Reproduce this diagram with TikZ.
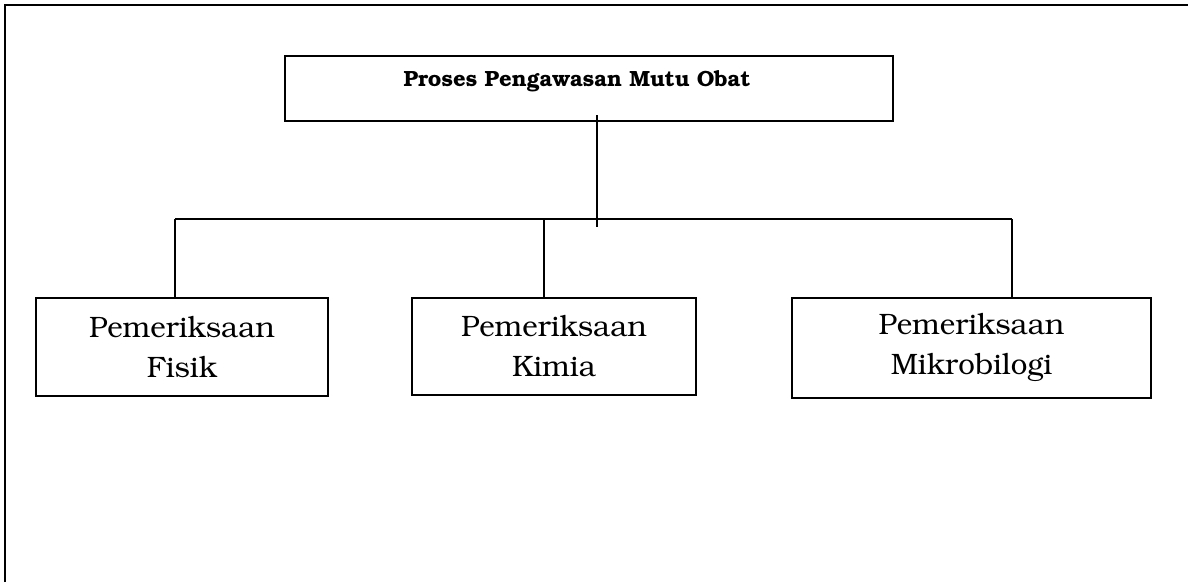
\documentclass[tikz,border=0pt]{standalone}
\usepackage[T1]{fontenc}
\usepackage{bookman}
\begin{document}
\begin{tikzpicture}[x=1pt,y=-1pt,
  framebox/.style={draw=black,line width=2pt,inner sep=0pt,anchor=center},
  childtext/.style={font=\fontsize{29.5}{40}\selectfont,align=center},
  titletext/.style={font=\fontsize{22}{26}\selectfont\bfseries},
  link/.style={draw=black,line width=1.7pt},
  bar/.style={draw=black,line width=2.3pt}]
  \useasboundingbox (0,0) rectangle (1195,582);
  % page frame: top and left edges only
  \draw[line width=2.4pt] (5,582) -- (5,5) -- (1188,5);

  % root box and its caption
  \node[framebox,line width=2.3pt,minimum width=608pt,minimum height=65pt] (root) at (589,88.5) {};
  \node[titletext] (roottext) at (577,81) {Proses Pengawasan Mutu Obat};

  % three examination boxes
  \node[framebox,minimum width=292pt,minimum height=98pt,childtext] (fisik) at (182,347) {Pemeriksaan\\Fisik};
  \node[framebox,minimum width=284pt,minimum height=97pt,childtext] (kimia) at (554,346.5) {Pemeriksaan\\Kimia};
  \node[framebox,minimum width=359pt,minimum height=100pt,childtext] (mikro) at (971.5,348) {Pemeriksaan\\Mikrobilogi};

  % trunk and branch points
  \coordinate (trunktop) at (597,115);
  \coordinate (trunkend) at (597,227);
  \coordinate (jl) at (175,219);
  \coordinate (jm) at (544,219);
  \coordinate (jr) at (1012,219);

  \draw[link] (trunktop) -- (trunkend);
  \draw[bar] (jl) -- (jr);
  \draw[link] (jl) -- (fisik.north -| jl);
  \draw[link] (jm) -- (kimia.north -| jm);
  \draw[link] (jr) -- (mikro.north -| jr);
\end{tikzpicture}
\end{document}
